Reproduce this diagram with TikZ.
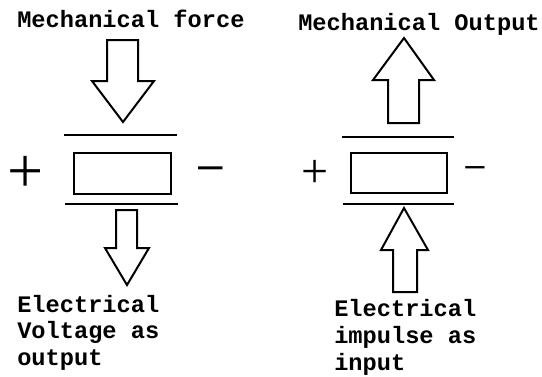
\documentclass[tikz,border=0pt]{standalone}
\usepackage{fontspec}
\setmainfont{Liberation Mono}
\newfontfamily\signfont{Liberation Serif}
\newfontfamily\dashfont{Liberation Sans}
\usetikzlibrary{positioning}

\begin{document}
\begin{tikzpicture}[
  x=0.75pt, y=-0.75pt,
  font=\fontsize{17.75}{19.75}\selectfont\bfseries,
  blockarrow/.style={draw=black, fill=white, line width=1.5pt, line join=miter},
  plate/.style={draw=black, line width=1.6pt},
  crystal/.style={draw=black, fill=white, line width=1.6pt},
  label/.style={inner sep=0pt, anchor=base west, align=left},
  plussign/.style={inner sep=0pt, font=\signfont\mdseries\fontsize{48}{48}\selectfont},
  minussign/.style={inner sep=0pt, font=\dashfont\mdseries\fontsize{33}{33}\selectfont}
]
\useasboundingbox (0,0) rectangle (542,376);

% Left element: force in, voltage out.
\node[label] (mechForce) at (17,27) {Mechanical force};
\draw[blockarrow] (107,40) -- (138,40) -- (138,81) -- (154,81) -- (123,122)
  -- (92,81) -- (107,81) -- cycle;
\draw[plate] (64,135) -- (177,135);
\draw[crystal] (74,153) rectangle (171,194);
\draw[plate] (65,204) -- (178,204);
\node[plussign] (plusL) at (26,174) {+};
\node[minussign] (minusL) at (211,173) {–};
\draw[blockarrow] (116,210) -- (137,210) -- (137,248) -- (149,248) -- (127,285)
  -- (105,248) -- (116,248) -- cycle;
% base anchor sits on the last line
\node[label] (elecVolt) at (17,365) {Electrical\\Voltage as\\output};

% Right element: impulse in, motion out.
\node[label] (mechOut) at (298,30) {Mechanical Output};
\draw[blockarrow] (404,38) -- (434,80) -- (419,80) -- (419,123) -- (388,123)
  -- (388,80) -- (373,80) -- cycle;
\draw[plate] (342,137) -- (454,137);
\draw[crystal] (351,153) rectangle (447,193);
\draw[plate] (343,204) -- (454,204);
\node[plussign, font=\signfont\mdseries\fontsize{36}{36}\selectfont] (plusR) at (315,174) {+};
\node[minussign, font=\dashfont\mdseries\fontsize{26}{26}\selectfont] (minusR) at (475,172) {–};
\draw[blockarrow] (404,208) -- (428,250) -- (417,250) -- (417,292) -- (393,292)
  -- (393,250) -- (381,250) -- cycle;
\node[label, font=\fontsize{17.75}{20.25}\selectfont\bfseries] (elecImp) at (334,370) {Electrical\\impulse as\\input};

\end{tikzpicture}
\end{document}
